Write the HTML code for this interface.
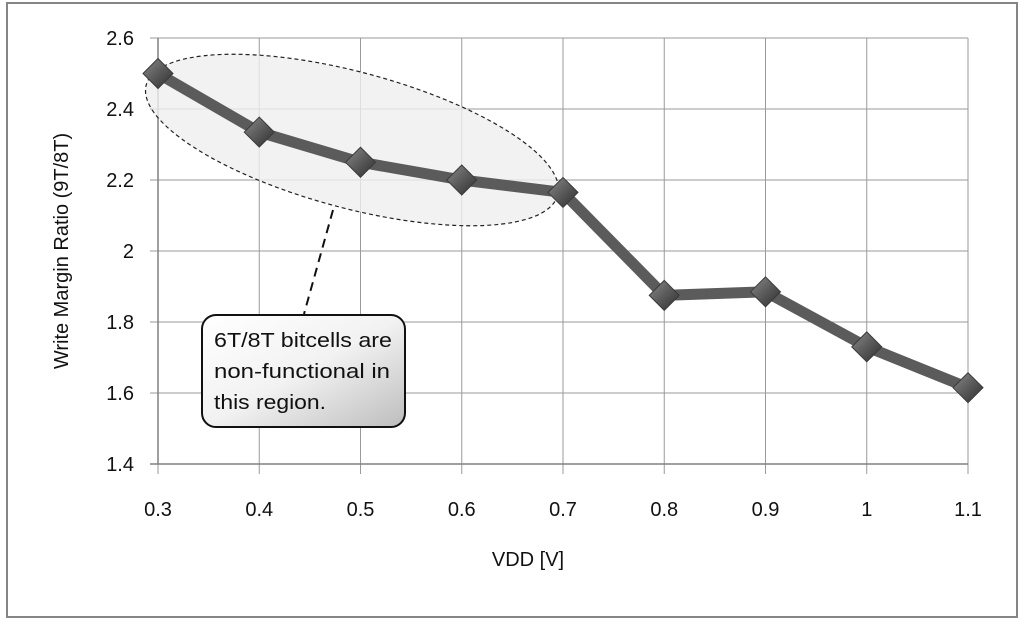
<!DOCTYPE html>
<html><head><meta charset="utf-8"><style>
html,body{margin:0;padding:0;background:#fff;width:1024px;height:624px;overflow:hidden}
svg text{font-family:"Liberation Sans",sans-serif;fill:#111}
</style></head><body>
<svg id="chart" width="1024" height="624" viewBox="0 0 1024 624" xmlns="http://www.w3.org/2000/svg">
<defs>
<linearGradient id="boxg" x1="0" y1="0" x2="1" y2="1"><stop offset="0" stop-color="#ffffff"/><stop offset="0.5" stop-color="#f2f2f2"/><stop offset="1" stop-color="#bdbdbd"/></linearGradient>
<linearGradient id="mk" x1="0" y1="0" x2="1" y2="1"><stop offset="0" stop-color="#8a8a8a"/><stop offset="0.5" stop-color="#5a5a5a"/><stop offset="1" stop-color="#2e2e2e"/></linearGradient>
</defs>
<rect x="7" y="3" width="1010" height="614" fill="#fff" stroke="#858585" stroke-width="2"/>
<g id="grid"></g>
<ellipse cx="352" cy="140" rx="213" ry="68" transform="rotate(15 352 140)" fill="#efefef" fill-opacity="0.8" stroke="#222" stroke-width="1.2" stroke-dasharray="4,3"/>
<g id="series"></g>
<line x1="333" y1="210" x2="304" y2="314" stroke="#111" stroke-width="2" stroke-dasharray="9,6"/>
<rect x="202" y="315" width="203" height="112" rx="14" fill="url(#boxg)" stroke="#111" stroke-width="2"/>
<g font-size="20">
<text x="214" y="347" textLength="178" lengthAdjust="spacingAndGlyphs">6T/8T bitcells are</text>
<text x="214" y="378" textLength="176" lengthAdjust="spacingAndGlyphs">non-functional in</text>
<text x="214" y="409" textLength="112" lengthAdjust="spacingAndGlyphs">this region.</text>
</g>
<text x="528" y="566" font-size="20" text-anchor="middle">VDD [V]</text>
<text transform="translate(68 251) rotate(-90)" font-size="20" text-anchor="middle">Write Margin Ratio (9T/8T)</text>
</svg>
<script>
const xTicks = [0.3,0.4,0.5,0.6,0.7,0.8,0.9,1,1.1];
const yTicks = [1.4,1.6,1.8,2,2.2,2.4,2.6];
const vdd = [0.3,0.4,0.5,0.6,0.7,0.8,0.9,1.0,1.1];
const ratio = [2.50,2.335,2.25,2.20,2.165,1.875,1.885,1.73,1.615];
const X0=158,X1=968,Y0=464,Y1=38;
function sx(v){return X0+(v-0.3)/(1.1-0.3)*(X1-X0);}
function sy(v){return Y0-(v-1.4)/(2.6-1.4)*(Y0-Y1);}
const NS="http://www.w3.org/2000/svg";
const grid=document.getElementById('grid');
function mk(tag,attrs,parent){const e=document.createElementNS(NS,tag);for(const k in attrs)e.setAttribute(k,attrs[k]);parent.appendChild(e);return e;}
xTicks.forEach(t=>{
  const l=mk('line',{x1:sx(t),x2:sx(t),y1:Y1,y2:Y0+10,stroke:'#9a9a9a','stroke-width':1},grid);
  
  
  const tx=mk('text',{x:sx(t),y:516,'font-size':20,'text-anchor':'middle'},grid);
  tx.textContent=String(t);
  
  
});
yTicks.forEach(t=>{
  const l=mk('line',{x1:X0-8,x2:X1,y1:sy(t),y2:sy(t),stroke:t===1.4?'#808080':'#9a9a9a','stroke-width':t===1.4?1.5:1},grid);
  
  
  const tx=mk('text',{x:134,y:sy(t)+7,'font-size':20,'text-anchor':'end'},grid);
  tx.textContent=String(t);
  
  
});
mk('line',{x1:X0,x2:X0,y1:Y1,y2:Y0,stroke:'#808080','stroke-width':1.5},grid);
const s=document.getElementById('series');
const pts=vdd.map((v,i)=>sx(v)+','+sy(ratio[i])).join(' ');
const pl=mk('polyline',{points:pts,fill:'none',stroke:'#5b5b5b','stroke-width':11,'stroke-linejoin':'round'},s);


vdd.forEach((v,i)=>{
  const x=sx(v),y=sy(ratio[i]),r=15;
  const p=mk('polygon',{points:`${x},${y-r} ${x+r},${y} ${x},${y+r} ${x-r},${y}`,fill:'url(#mk)',stroke:'#3a3a3a','stroke-width':1},s);
  
  
});
</script>
</body></html>
